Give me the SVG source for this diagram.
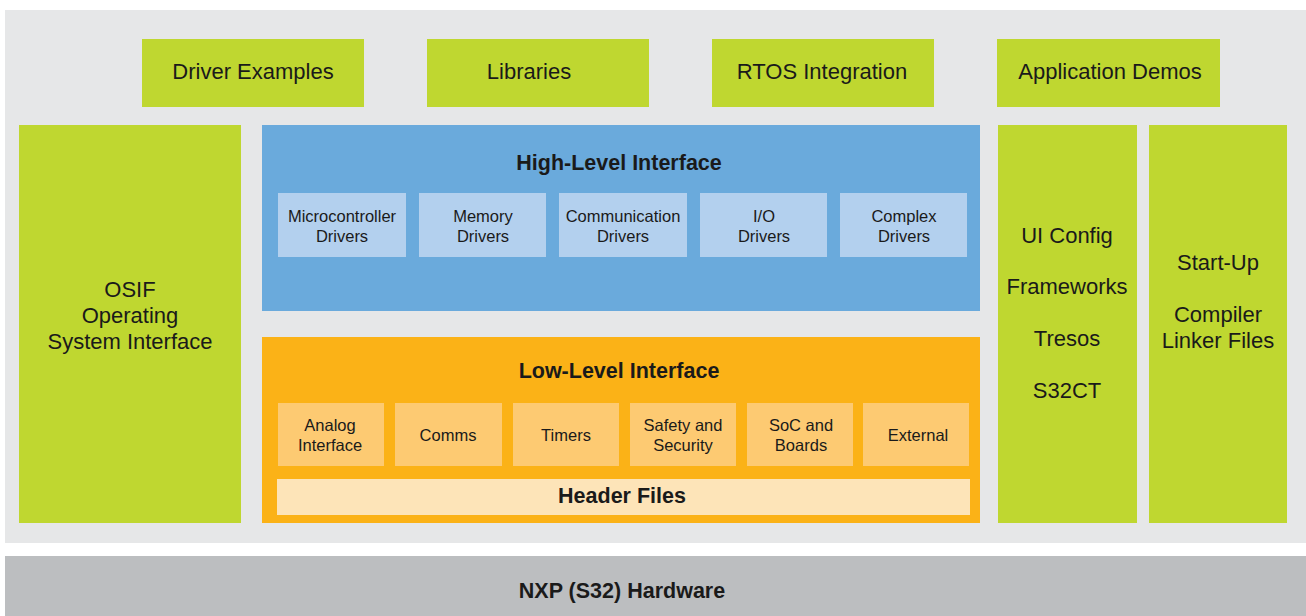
<svg xmlns="http://www.w3.org/2000/svg" width="1306" height="616" viewBox="0 0 1306 616">
<style>
text{font-family:"Liberation Sans",Arial,sans-serif;fill:#1a1a1a;text-anchor:middle}
.l{font-size:22px}
.s{font-size:16.5px}
.b{font-size:21.5px;font-weight:bold}
.g{fill:#bfd730}
.lb{fill:#b3d0ee}
.lo{fill:#fdca72}
</style>
<rect x="0" y="0" width="1306" height="616" fill="#ffffff"/>
<rect id="bg" x="5" y="10" width="1301" height="533" fill="#e6e7e8"/>
<g id="hardware"><rect x="5" y="556" width="1301" height="60" fill="#bcbec0"/><text class="b" x="622" y="598">NXP (S32) Hardware</text></g>
<g id="driver-examples"><rect class="g" x="142" y="39" width="222" height="68"/><text class="l" x="253" y="79">Driver Examples</text></g>
<g id="libraries"><rect class="g" x="427" y="39" width="222" height="68"/><text class="l" x="529" y="79">Libraries</text></g>
<g id="rtos"><rect class="g" x="712" y="39" width="222" height="68"/><text class="l" x="822" y="79">RTOS Integration</text></g>
<g id="app-demos"><rect class="g" x="997" y="39" width="223" height="68"/><text class="l" x="1110" y="79">Application Demos</text></g>
<g id="osif"><rect class="g" x="19" y="125" width="222" height="398"/><text class="l" x="130" y="297">OSIF</text><text class="l" x="130" y="323">Operating</text><text class="l" x="130" y="349">System Interface</text></g>
<g id="high-level"><rect x="262" y="125" width="718" height="186" fill="#6aaadc"/><text class="b" x="619" y="170">High-Level Interface</text>
<rect class="lb" x="278" y="193" width="128" height="64"/><text class="s" x="342" y="222">Microcontroller</text><text class="s" x="342" y="242">Drivers</text>
<rect class="lb" x="419" y="193" width="127" height="64"/><text class="s" x="483" y="222">Memory</text><text class="s" x="483" y="242">Drivers</text>
<rect class="lb" x="559" y="193" width="128" height="64"/><text class="s" x="623" y="222">Communication</text><text class="s" x="623" y="242">Drivers</text>
<rect class="lb" x="700" y="193" width="127" height="64"/><text class="s" x="764" y="222">I/O</text><text class="s" x="764" y="242">Drivers</text>
<rect class="lb" x="840" y="193" width="127" height="64"/><text class="s" x="904" y="222">Complex</text><text class="s" x="904" y="242">Drivers</text>
</g>
<g id="low-level"><rect x="262" y="337" width="718" height="186" fill="#fbb217"/><text class="b" x="619" y="378">Low-Level Interface</text>
<rect class="lo" x="278" y="403" width="106" height="63"/><text class="s" x="330" y="431">Analog</text><text class="s" x="330" y="451">Interface</text>
<rect class="lo" x="395" y="403" width="107" height="63"/><text class="s" x="448" y="441">Comms</text>
<rect class="lo" x="513" y="403" width="106" height="63"/><text class="s" x="566" y="441">Timers</text>
<rect class="lo" x="630" y="403" width="106" height="63"/><text class="s" x="683" y="431">Safety and</text><text class="s" x="683" y="451">Security</text>
<rect class="lo" x="747" y="403" width="106" height="63"/><text class="s" x="801" y="431">SoC and</text><text class="s" x="801" y="451">Boards</text>
<rect class="lo" x="863" y="403" width="106" height="63"/><text class="s" x="918" y="441">External</text>
<rect x="277" y="479" width="693" height="36" fill="#fde4b8"/><text class="b" x="622" y="503">Header Files</text>
</g>
<g id="config"><rect class="g" x="998" y="125" width="139" height="398"/><text class="l" x="1067" y="243">UI Config</text><text class="l" x="1067" y="294">Frameworks</text><text class="l" x="1067" y="346">Tresos</text><text class="l" x="1067" y="398">S32CT</text></g>
<g id="startup"><rect class="g" x="1149" y="125" width="138" height="398"/><text class="l" x="1218" y="270">Start-Up</text><text class="l" x="1218" y="322">Compiler</text><text class="l" x="1218" y="348">Linker Files</text></g>
<g id="connectors"></g>
</svg>
